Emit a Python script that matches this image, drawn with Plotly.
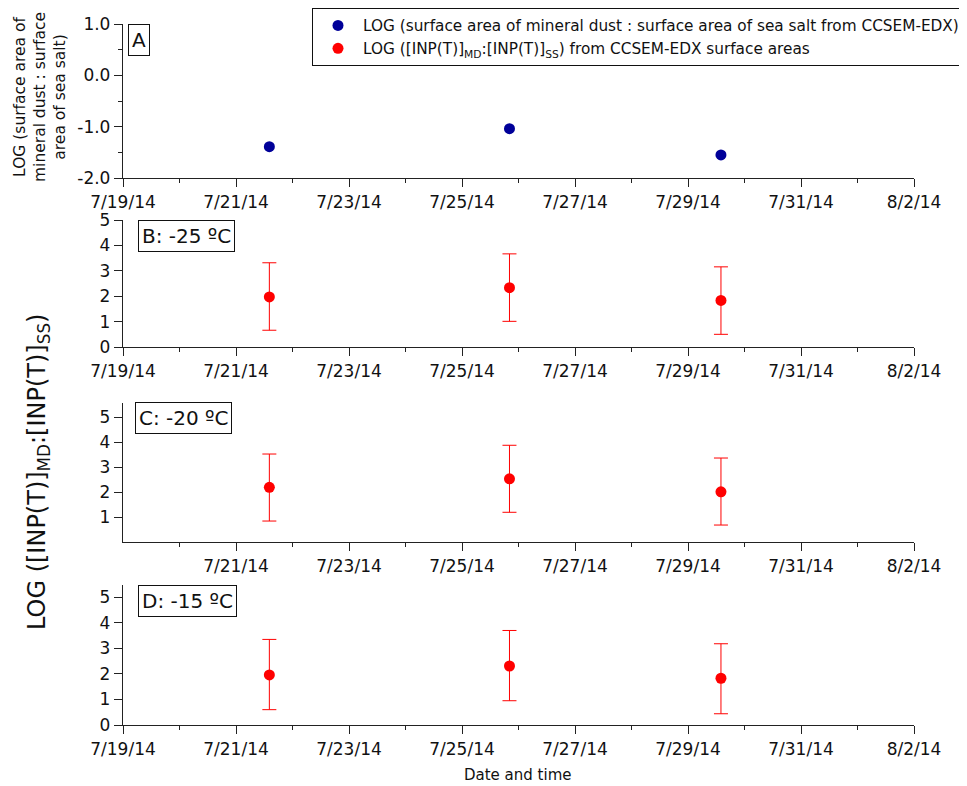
import plotly.graph_objects as go

# ---------------- data ----------------
dates = ["2014-07-21 14:10", "2014-07-25 20:10", "2014-07-29 14:00"]

ratio_sa = [-1.39, -1.04, -1.55]           # panel A

inp_m25 = [1.98, 2.34, 1.84]               # panel B (-25 C)
inp_m25_hi = [1.34, 1.33, 1.32]
inp_m25_lo = [1.31, 1.32, 1.33]

inp_m20 = [2.20, 2.54, 2.02]               # panel C (-20 C)
inp_m20_hi = [1.33, 1.34, 1.35]
inp_m20_lo = [1.35, 1.34, 1.33]

inp_m15 = [1.96, 2.31, 1.83]               # panel D (-15 C)
inp_m15_hi = [1.39, 1.39, 1.35]
inp_m15_lo = [1.36, 1.36, 1.39]

major_ticks = ["2014-07-19", "2014-07-21", "2014-07-23", "2014-07-25",
               "2014-07-27", "2014-07-29", "2014-07-31", "2014-08-02"]
major_labels = ["7/19/14", "7/21/14", "7/23/14", "7/25/14",
                "7/27/14", "7/29/14", "7/31/14", "8/2/14"]
minor_ticks = ["2014-07-20", "2014-07-22", "2014-07-24", "2014-07-26",
               "2014-07-28", "2014-07-30", "2014-08-01"]

legend_a = "LOG (surface area of mineral dust : surface area of sea salt from CCSEM-EDX)"
legend_b = "LOG ([INP(T)]<sub>MD</sub>:[INP(T)]<sub>SS</sub>) from CCSEM-EDX surface areas"
panel_labels = ["A", "B: -25 ºC", "C: -20 ºC", "D: -15 ºC"]

# ---------------- layout helpers ----------------
PAGE_OFF = 8               # default body margin of the page
W, H = 967 - PAGE_OFF, 786 - PAGE_OFF
BLUE = "#000099"
RED = "#ff0000"
AX = "#222222"
FONT = "DejaVu Sans"
TICKSZ = 17


def px_x(p):
    return (p - PAGE_OFF) / W


def px_y(p):
    return 1 - (p - PAGE_OFF) / H


xdom = [px_x(123), px_x(914)]
ydoms = [
    [px_y(178), px_y(24)],
    [px_y(347.3), px_y(220)],
    [px_y(542.3), px_y(403)],
    [px_y(725), px_y(585)],
]

fig = go.Figure()

# panel A
fig.add_trace(go.Scatter(x=dates, y=ratio_sa, mode="markers",
                         marker=dict(color=BLUE, size=11),
                         name=legend_a, xaxis="x", yaxis="y"))
# legend entry for red series
fig.add_trace(go.Scatter(x=[None], y=[None], mode="markers",
                         marker=dict(color=RED, size=11),
                         name=legend_b, xaxis="x", yaxis="y"))

series = [(inp_m25, inp_m25_hi, inp_m25_lo),
          (inp_m20, inp_m20_hi, inp_m20_lo),
          (inp_m15, inp_m15_hi, inp_m15_lo)]
for i, (vals, hi, lo) in enumerate(series, start=2):
    fig.add_trace(go.Scatter(
        x=dates, y=vals, mode="markers",
        marker=dict(color=RED, size=11),
        error_y=dict(type="data", symmetric=False, array=hi, arrayminus=lo,
                     color=RED, thickness=1, width=7),
        showlegend=False, xaxis=f"x{i}", yaxis=f"y{i}"))

xrange = ["2014-07-19", "2014-08-02"]


def xaxis_def(anchor, ticks_v, labels):
    return dict(
        domain=xdom, anchor=anchor, range=xrange, type="date",
        tickmode="array", tickvals=ticks_v, ticktext=labels,
        ticks="outside", ticklen=8, tickwidth=1, tickcolor=AX,
        showline=True, linecolor=AX, linewidth=1.3,
        showgrid=False, zeroline=False, automargin=False,
        tickfont=dict(family=FONT, size=TICKSZ, color="#111"),
        minor=dict(tickmode="array", tickvals=minor_ticks, ticks="outside",
                   ticklen=4, tickwidth=1, tickcolor=AX, showgrid=False),
    )


def yaxis_def(anchor, dom, rng, tv, tt, minor_tv=None):
    d = dict(
        domain=dom, anchor=anchor, range=rng,
        tickmode="array", tickvals=tv, ticktext=tt,
        ticks="outside", ticklen=8, tickwidth=1, tickcolor=AX,
        showline=True, linecolor=AX, linewidth=1.3,
        showgrid=False, zeroline=False, automargin=False,
        tickfont=dict(family=FONT, size=TICKSZ, color="#111"),
    )
    if minor_tv:
        d["minor"] = dict(tickmode="array", tickvals=minor_tv, ticks="outside",
                          ticklen=4, tickwidth=1, tickcolor=AX, showgrid=False)
    return d


layout = dict(
    width=W, height=H,
    margin=dict(l=0, r=0, t=0, b=0, autoexpand=False),
    paper_bgcolor="white", plot_bgcolor="white",
    font=dict(family=FONT, color="#111"),
    showlegend=True,
    legend=dict(x=px_x(312), y=px_y(8), xanchor="left", yanchor="top",
                bordercolor="#111", borderwidth=1, bgcolor="white",
                font=dict(family=FONT, size=15.3, color="#111"),
                tracegroupgap=0, itemwidth=40),
    xaxis=xaxis_def("y", major_ticks, major_labels),
    xaxis2=xaxis_def("y2", major_ticks, major_labels),
    xaxis3=xaxis_def("y3", major_ticks[1:], major_labels[1:]),
    xaxis4=xaxis_def("y4", major_ticks, major_labels),
    yaxis=yaxis_def("x", ydoms[0], [-2, 1], [-2, -1, 0, 1],
                    ["-2.0", "-1.0", "0.0", "1.0"], [-1.5, -0.5, 0.5]),
    yaxis2=yaxis_def("x2", ydoms[1], [0, 5], [0, 1, 2, 3, 4, 5],
                     ["0", "1", "2", "3", "4", "5"]),
    yaxis3=yaxis_def("x3", ydoms[2], [0, 5.57], [1, 2, 3, 4, 5],
                     ["1", "2", "3", "4", "5"]),
    yaxis4=yaxis_def("x4", ydoms[3], [0, 5.48], [0, 1, 2, 3, 4, 5],
                     ["0", "1", "2", "3", "4", "5"]),
)
fig.update_layout(**layout)

# panel labels
label_pos = [(128, 24), (138, 220), (135, 402), (138, 585)]
for txt, (lx, ly) in zip(panel_labels, label_pos):
    fig.add_annotation(text=txt, xref="paper", yref="paper",
                       x=px_x(lx), y=px_y(ly), xanchor="left", yanchor="top",
                       showarrow=False, bordercolor="#111", borderwidth=1,
                       borderpad=3, bgcolor="white",
                       font=dict(family=FONT, size=20, color="#111"))

# y axis titles
fig.add_annotation(text="LOG (surface area of<br>mineral dust : surface<br>area of sea salt)",
                   xref="paper", yref="paper", x=px_x(40), y=px_y(97),
                   xanchor="center", yanchor="middle",
                   textangle=-90, showarrow=False,
                   font=dict(family=FONT, size=15.5, color="#111"))
fig.add_annotation(text="LOG ([INP(T)]<sub>MD</sub>:[INP(T)]<sub>SS</sub>)",
                   xref="paper", yref="paper", x=px_x(38), y=px_y(472),
                   xanchor="center", yanchor="middle",
                   textangle=-90, showarrow=False,
                   font=dict(family=FONT, size=24, color="#111"))
fig.add_annotation(text="Date and time", xref="paper", yref="paper",
                   x=px_x(518), y=px_y(775), xanchor="center", yanchor="middle",
                   showarrow=False,
                   font=dict(family=FONT, size=15, color="#111"))

fig.write_html("out.html")
